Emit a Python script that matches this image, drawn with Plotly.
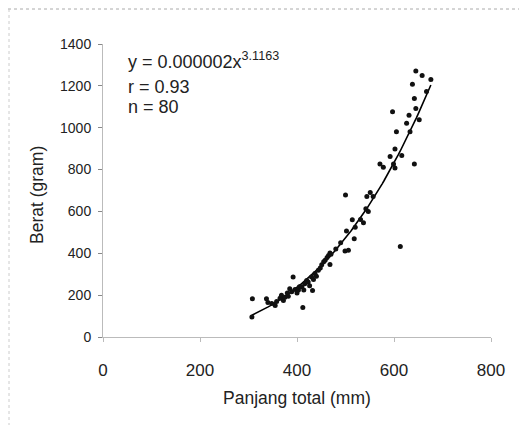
import numpy as np
import plotly.graph_objects as go

panjang = [307, 308, 337, 340, 348, 355, 358, 365, 368, 372, 375, 380, 382, 389, 392,
           396, 400, 403, 405, 410, 412, 414, 416, 420, 423, 426, 430, 432, 434, 437,
           440, 444, 448, 451, 455, 458, 462, 465, 468, 468, 470, 480, 490, 499, 506,
           500, 502, 514, 518, 520, 531, 537, 542, 544, 547, 551, 557, 571, 578, 592,
           597, 599, 602, 602, 605, 613, 616, 626, 631, 633, 638, 642, 642, 645, 645,
           652, 658, 667, 676, 385]
berat = [95, 183, 183, 165, 160, 150, 170, 185, 200, 175, 190, 210, 195, 216, 287,
         227, 210, 224, 240, 240, 141, 225, 255, 270, 263, 245, 287, 222, 275, 303,
         290, 319, 330, 345, 360, 367, 380, 390, 401, 346, 395, 420, 450, 411, 415,
         678, 506, 560, 470, 525, 561, 546, 613, 671, 600, 690, 671, 827, 811, 862,
         1076, 827, 807, 898, 981, 433, 867, 1021, 1060, 981, 1208, 1140, 827, 1092, 1271,
         1038, 1249, 1173, 1230, 230]

x_ticks = [0, 200, 400, 600, 800]
y_ticks = [0, 200, 400, 600, 800, 1000, 1200, 1400]
stat_lines = ["y = 0.000002x<sup>3.1163</sup>", "r = 0.93", "n = 80"]
x_title = "Panjang total (mm)"
y_title = "Berat (gram)"

# power trendline fitted to the data (log-log least squares)
xa = np.array(panjang, dtype=float)
ya = np.array(berat, dtype=float)
b, loga = np.polyfit(np.log(xa), np.log(ya), 1)
xf = np.linspace(xa.min(), xa.max(), 100)
yf = np.exp(loga) * xf ** b

font = "Liberation Sans, Arial, sans-serif"
txt = "#222"

# page offset (body margin) and plot area in page pixels
OFF = 8
FW, FH = 519, 417
L, R, T, B = 103 - OFF, 491 - OFF, 44 - OFF, 337 - OFF
W, H = R - L, B - T

def px(xp):
    return (xp - OFF - L) / W

def py(yp):
    return (B - (yp - OFF)) / H

fig = go.Figure()
fig.add_trace(go.Scatter(x=xf, y=yf, mode="lines",
                         line=dict(color="black", width=1.6), hoverinfo="skip"))
fig.add_trace(go.Scatter(x=panjang, y=berat, mode="markers",
                         marker=dict(color="#111", size=5)))

fig.update_layout(
    width=FW, height=FH,
    margin=dict(l=L, r=FW - R, t=T, b=FH - B, autoexpand=False),
    paper_bgcolor="white", plot_bgcolor="white",
    showlegend=False,
    font=dict(family=font, size=14, color=txt),
    xaxis=dict(range=[0, 800], tickvals=x_ticks, showgrid=False, zeroline=False,
               showline=True, linecolor="#bbb", linewidth=1, automargin=False,
               ticks="outside", ticklen=4, tickcolor="#bbb", ticklabelstandoff=14,
               tickfont=dict(size=17, color=txt)),
    yaxis=dict(range=[0, 1400], tickvals=y_ticks, showgrid=False, zeroline=False,
               showline=True, linecolor="#bbb", linewidth=1, automargin=False,
               ticks="outside", ticklen=4, tickcolor="#888", ticklabelstandoff=4,
               tickfont=dict(size=14, color=txt)),
)

for t, yp in zip(stat_lines, [61, 87, 107]):
    fig.add_annotation(text=t, xref="paper", yref="paper",
                       x=px(126), y=py(yp), xanchor="left", yanchor="middle",
                       showarrow=False, font=dict(size=18, color=txt, family=font))

fig.add_annotation(text=x_title, xref="paper", yref="paper", x=px(297), y=py(398),
                   xanchor="center", yanchor="middle", showarrow=False,
                   font=dict(size=17.5, color=txt, family=font))
fig.add_annotation(text=y_title, xref="paper", yref="paper", x=px(37), y=py(195),
                   xanchor="center", yanchor="middle", showarrow=False, textangle=-90,
                   font=dict(size=17.5, color=txt, family=font))

# faint scanned border (top and left)
fig.add_shape(type="line", xref="paper", yref="paper",
              x0=px(8), x1=px(527), y0=py(9), y1=py(9),
              line=dict(color="#aaa", width=1, dash="dot"))
fig.add_shape(type="line", xref="paper", yref="paper",
              x0=px(9), x1=px(9), y0=py(9), y1=py(425),
              line=dict(color="#ccc", width=1, dash="dot"))

fig.write_html("out.html")
